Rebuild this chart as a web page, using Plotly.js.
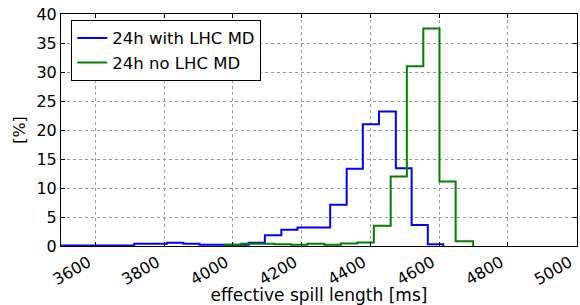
<!DOCTYPE html>
<html>
<head>
<meta charset="utf-8">
<script src="https://cdn.plot.ly/plotly-3.0.1.min.js"></script>
<style>html,body{margin:0;padding:0;background:#fff;}#chart{width:580px;height:305px;}</style>
</head>
<body>
<div id="chart"></div>
<script>
// Bin edges (ms) and bin heights (%)
const blueEdges = [3476, 3524, 3571, 3619, 3666, 3713, 3761, 3808, 3856, 3903, 3951, 3998, 4046, 4093, 4141, 4188, 4236, 4283, 4331, 4378, 4425, 4474, 4520, 4567, 4612];
const blueValues = [0.1, 0.1, 0.1, 0.1, 0.1, 0.4, 0.4, 0.55, 0.4, 0.2, 0.2, 0.2, 0.55, 1.85, 2.8, 3.2, 3.2, 7.1, 13.3, 21.0, 23.2, 13.4, 3.6, 0.3];
const greenEdges = [3976, 4024, 4072, 4121, 4169, 4217, 4266, 4314, 4362, 4410, 4459, 4506, 4554, 4601, 4648, 4699];
const greenValues = [0.2, 0.4, 0.4, 0.3, 0.2, 0.4, 0.2, 0.45, 0.6, 3.5, 12.0, 31.0, 37.5, 11.1, 0.8];
const seriesNames = ["24h with LHC MD", "24h no LHC MD"];
const xTickVals = [3600, 3800, 4000, 4200, 4400, 4600, 4800, 5000];
const yTickVals = [0, 5, 10, 15, 20, 25, 30, 35, 40];

function stepPath(edges, values) {
  const x = [edges[0]].concat(edges);
  const y = [0].concat(values, [0]);
  return {x: x, y: y};
}

const b = stepPath(blueEdges, blueValues);
const g = stepPath(greenEdges, greenValues);

const traces = [
  {x: b.x, y: b.y, type: 'scatter', mode: 'lines', line: {shape: 'hv', color: '#0000ff', width: 2}, name: seriesNames[0], legendgroup: 'a'},
  {x: g.x, y: g.y, type: 'scatter', mode: 'lines', line: {shape: 'hv', color: '#008000', width: 2}, name: seriesNames[1], legendgroup: 'b'}
];

const fontFam = 'DejaVu Sans, sans-serif';
const layout = {
  width: 580, height: 305,
  margin: {l: 61, r: 3, t: 14, b: 59},
  paper_bgcolor: '#fff', plot_bgcolor: '#fff',
  font: {family: fontFam, size: 16, color: '#000'},
  showlegend: true,
  legend: {
    x: 0.02, y: 0.975, xanchor: 'left', yanchor: 'top',
    bordercolor: '#000', borderwidth: 1, bgcolor: '#fff',
    font: {family: fontFam, size: 16.5, color: '#000'},
    tracegroupgap: 0
  },
  xaxis: {
    range: [3500, 5001], tickvals: xTickVals, ticktext: xTickVals.map(String),
    tickangle: -30, ticks: 'inside', ticklen: 4, tickcolor: '#000',
    ticklabeloverflow: 'allow', ticklabelshift: -7,
    showline: true, linecolor: '#000', linewidth: 1, mirror: 'ticks',
    showgrid: true, gridcolor: '#999', griddash: 'dot', gridwidth: 1,
    zeroline: false,
    title: {text: 'effective spill length [ms]', font: {family: fontFam, size: 17}, standoff: 0},
    tickfont: {family: fontFam, size: 16}
  },
  yaxis: {
    range: [0, 40], tickvals: yTickVals,
    ticks: 'inside', ticklen: 4, tickcolor: '#000',
    showline: true, linecolor: '#000', linewidth: 1, mirror: 'ticks',
    showgrid: true, gridcolor: '#999', griddash: 'dot', gridwidth: 1,
    zeroline: false,
    title: {text: '[%]', font: {family: fontFam, size: 16}, standoff: 6},
    tickfont: {family: fontFam, size: 16}
  }
};

Plotly.newPlot('chart', traces, layout, {staticPlot: true, displayModeBar: false});
</script>
</body>
</html>
